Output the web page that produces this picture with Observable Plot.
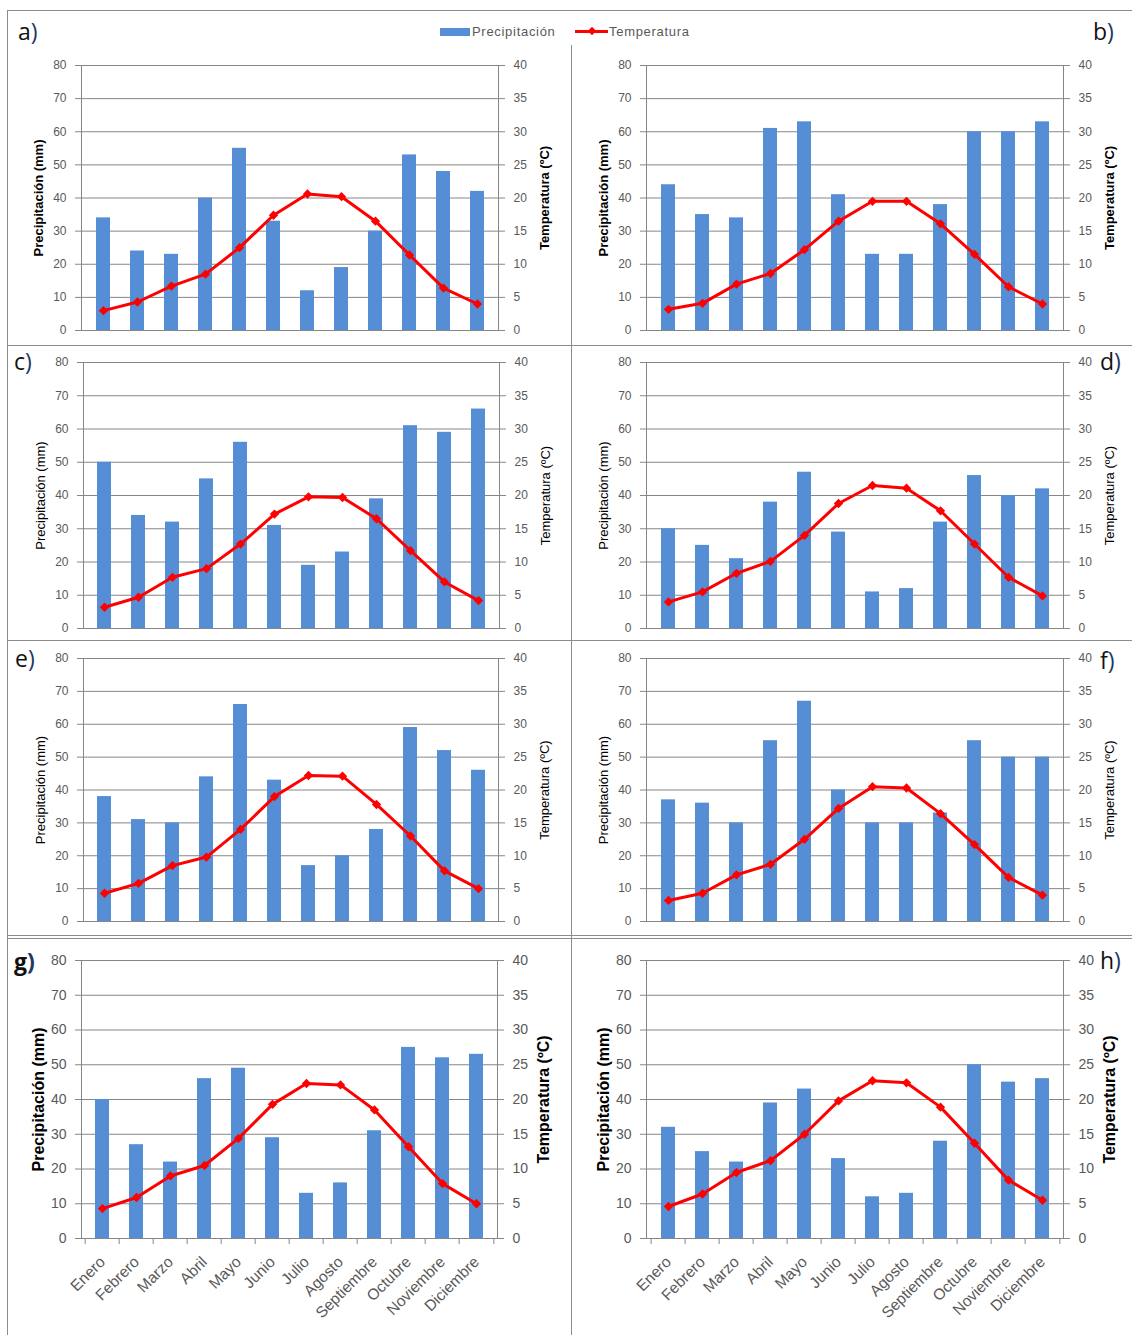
<!DOCTYPE html>
<html><head><meta charset="utf-8">
<script src="https://cdn.jsdelivr.net/npm/d3@7"></script>
<script src="https://cdn.jsdelivr.net/npm/@observablehq/plot@0.6"></script>
<style>
body{margin:0;background:#fff;}
#root{position:relative;width:1132px;height:1335px;overflow:hidden;font-family:"Liberation Sans",Arial,sans-serif;background:#fff;}
.p{position:absolute;}
.p svg{overflow:visible;}
.hl{position:absolute;height:0;border-top:1.5px solid #8c8c8c;}
.vl{position:absolute;width:0;border-left:1.5px solid #8c8c8c;}
.lab{position:absolute;font-size:23px;line-height:1;color:#111;font-family:"Open Sans","Liberation Sans",sans-serif;}
.lab span{color:#1f3864;}
.leg{position:absolute;font-size:13px;color:#595959;letter-spacing:0.7px;line-height:1;}
</style></head><body><div id="root"></div>
<script>
const months = ["Enero","Febrero","Marzo","Abril","Mayo","Junio","Julio","Agosto","Septiembre","Octubre","Noviembre","Diciembre"];
const precipTicks = [0,10,20,30,40,50,60,70,80];
const seriesNames = ["Precipitación","Temperatura"];
const leftTitle = "Precipitación (mm)";
const rightTitle = "Temperatura (ºC)";

const precipA = [34,24,23,40,55,33,12,19,30,53,48,42];
const tempA   = [3.0,4.3,6.7,8.5,12.5,17.4,20.6,20.2,16.5,11.4,6.4,4.0];
const precipB = [44,35,34,61,63,41,23,23,38,60,60,63];
const tempB   = [3.2,4.1,7.0,8.6,12.2,16.5,19.5,19.5,16.1,11.5,6.6,4.0];
const precipC = [50,34,32,45,56,31,19,23,39,61,59,66];
const tempC   = [3.2,4.7,7.7,9.0,12.7,17.2,19.8,19.7,16.5,11.7,7.0,4.2];
const precipD = [30,25,21,38,47,29,11,12,32,46,40,42];
const tempD   = [4.0,5.5,8.3,10.1,14.0,18.8,21.5,21.1,17.7,12.7,7.7,4.9];
const precipE = [38,31,30,44,66,43,17,20,28,59,52,46];
const tempE   = [4.3,5.8,8.5,9.8,14.0,19.0,22.2,22.1,17.8,13.0,7.7,5.0];
const precipF = [37,36,30,55,67,40,30,30,33,55,50,50];
const tempF   = [3.2,4.3,7.1,8.7,12.5,17.2,20.5,20.3,16.4,11.7,6.7,4.0];
const precipG = [40,27,22,46,49,29,13,16,31,55,52,53];
const tempG   = [4.3,5.9,9.0,10.5,14.4,19.3,22.3,22.1,18.5,13.2,7.9,5.0];
const precipH = [32,25,22,39,43,23,12,13,28,50,45,46];
const tempH   = [4.6,6.4,9.5,11.2,15.0,19.8,22.7,22.4,18.9,13.7,8.4,5.5];

const BLUE = "#558ed5", RED = "#ff0000", GRID = "#868686", TXT = "#595959";

const panels = [
  {id:"a", p:precipA, t:tempA, left:8,   top:10,  w:563, h:337, ml:73, mr:73, mt:55, mb:17, row:1},
  {id:"b", p:precipB, t:tempB, left:571, top:10,  w:561, h:337, ml:75, mr:69, mt:55, mb:17, row:1},
  {id:"c", p:precipC, t:tempC, left:8,   top:347, w:563, h:295, ml:75, mr:72, mt:15, mb:14, row:2},
  {id:"d", p:precipD, t:tempD, left:571, top:347, w:561, h:295, ml:75, mr:69, mt:15, mb:14, row:2},
  {id:"e", p:precipE, t:tempE, left:8,   top:642, w:563, h:295, ml:75, mr:73, mt:16, mb:16, row:3},
  {id:"f", p:precipF, t:tempF, left:571, top:642, w:561, h:295, ml:75, mr:69, mt:16, mb:16, row:3},
  {id:"g", p:precipG, t:tempG, left:8,   top:937, w:563, h:398, ml:73, mr:74, mt:23, mb:97, row:4},
  {id:"h", p:precipH, t:tempH, left:571, top:937, w:561, h:398, ml:75, mr:69, mt:23, mb:97, row:4}
];
const labelPos = {
  a:{x:18,y:20}, b:{x:1093,y:20}, c:{x:14,y:350}, d:{x:1100,y:350},
  e:{x:15,y:647}, f:{x:1100,y:649}, g:{x:14,y:950}, h:{x:1100,y:949}
};

const root = document.getElementById("root");

function makePanel(c) {
  const data = months.map((m, i) => ({m, p: c.p[i], t: c.t[i]}));
  const big = c.row === 4;
  const tickFs = big ? 14 : 12;
  const titleFs = big ? 16 : 13;
  const titleW = (c.row === 2 || c.row === 3) ? "normal" : "bold";
  const step = (c.w - c.ml - c.mr) / 12;
  const marks = [
    Plot.gridY(precipTicks, {stroke: GRID, strokeOpacity: 1}),
    Plot.barY(data, {x: "m", y: "p", fill: BLUE}),
    Plot.frame({stroke: GRID}),
    Plot.axisY(precipTicks, {anchor: "left", label: null, tickSize: 6, tickPadding: 9, stroke: GRID, fill: TXT, fontSize: tickFs}),
    Plot.axisY(precipTicks, {anchor: "right", label: null, tickSize: 6, tickPadding: 9, stroke: GRID, fill: TXT, fontSize: tickFs, tickFormat: d => String(d / 2)}),
    Plot.line(data, {x: "m", y: d => d.t * 2, stroke: RED, strokeWidth: 3}),
    Plot.dot(data, {x: "m", y: d => d.t * 2, symbol: "diamond2", r: 4.2, fill: RED, stroke: "none"}),
    Plot.text([leftTitle], {frameAnchor: "left", textAnchor: "middle", dx: -43, rotate: -90, fontSize: titleFs, fontWeight: titleW, fill: "#000"}),
    Plot.text([rightTitle], {frameAnchor: "right", textAnchor: "middle", dx: 46, rotate: -90, fontSize: titleFs, fontWeight: titleW, fill: "#000"})
  ];
  if (big) {
    marks.push(
      Plot.ruleX(months, {x: d => d, dx: -step / 2, y1: 0, y2: 0, insetBottom: -6, stroke: GRID}),
      Plot.ruleX([months[11]], {x: d => d, dx: step / 2, y1: 0, y2: 0, insetBottom: -6, stroke: GRID}),
      Plot.axisX({label: null, tickRotate: -45, tickSize: 0, tickPadding: 21, dx: 0, fill: TXT, fontSize: 15.5})
    );
  }
  const svg = Plot.plot({
    width: c.w, height: c.h,
    marginLeft: c.ml, marginRight: c.mr, marginTop: c.mt, marginBottom: c.mb,
    style: {fontFamily: '"Liberation Sans", Arial, sans-serif', background: "transparent", overflow: "visible"},
    x: {type: "band", domain: months, paddingInner: 0.59, paddingOuter: 0.295, axis: null, label: null},
    y: {domain: [0, 80], axis: null, label: null},
    marks
  });
  const div = document.createElement("div");
  div.className = "p";
  div.style.left = c.left + "px";
  div.style.top = c.top + "px";
  div.appendChild(svg);
  root.appendChild(div);

  const lab = document.createElement("div");
  lab.className = "lab";
  lab.style.left = labelPos[c.id].x + "px";
  lab.style.top = labelPos[c.id].y + "px";
  if (c.id === "g") lab.style.fontWeight = "bold";
  lab.innerHTML = c.id + "<span>)</span>";
  root.appendChild(lab);
}

function hl(x, y, w) { const d = document.createElement("div"); d.className = "hl"; d.style.left = x + "px"; d.style.top = y + "px"; d.style.width = w + "px"; root.appendChild(d); }
function vl(x, y, h) { const d = document.createElement("div"); d.className = "vl"; d.style.left = x + "px"; d.style.top = y + "px"; d.style.height = h + "px"; root.appendChild(d); }
hl(7, 10, 1125);
hl(7, 345, 1125);
hl(7, 640, 1125);
hl(7, 935, 1125);
hl(7, 938, 1125);
vl(7, 10, 1325);
vl(571, 45, 1290);

panels.forEach(makePanel);

const sw = document.createElement("div");
sw.style.cssText = `position:absolute;left:440px;top:28px;width:30px;height:8px;background:${BLUE}`;
root.appendChild(sw);
const l1 = document.createElement("div"); l1.className = "leg"; l1.style.left = "472px"; l1.style.top = "25px"; l1.textContent = seriesNames[0]; root.appendChild(l1);
const ln = document.createElement("div");
ln.style.cssText = `position:absolute;left:575px;top:30px;width:33px;height:3px;background:${RED}`;
root.appendChild(ln);
const dm = document.createElement("div");
dm.style.cssText = `position:absolute;left:589px;top:28px;width:6px;height:6px;background:${RED};transform:rotate(45deg)`;
root.appendChild(dm);
const l2 = document.createElement("div"); l2.className = "leg"; l2.style.left = "609px"; l2.style.top = "25px"; l2.textContent = seriesNames[1]; root.appendChild(l2);
</script></body></html>
